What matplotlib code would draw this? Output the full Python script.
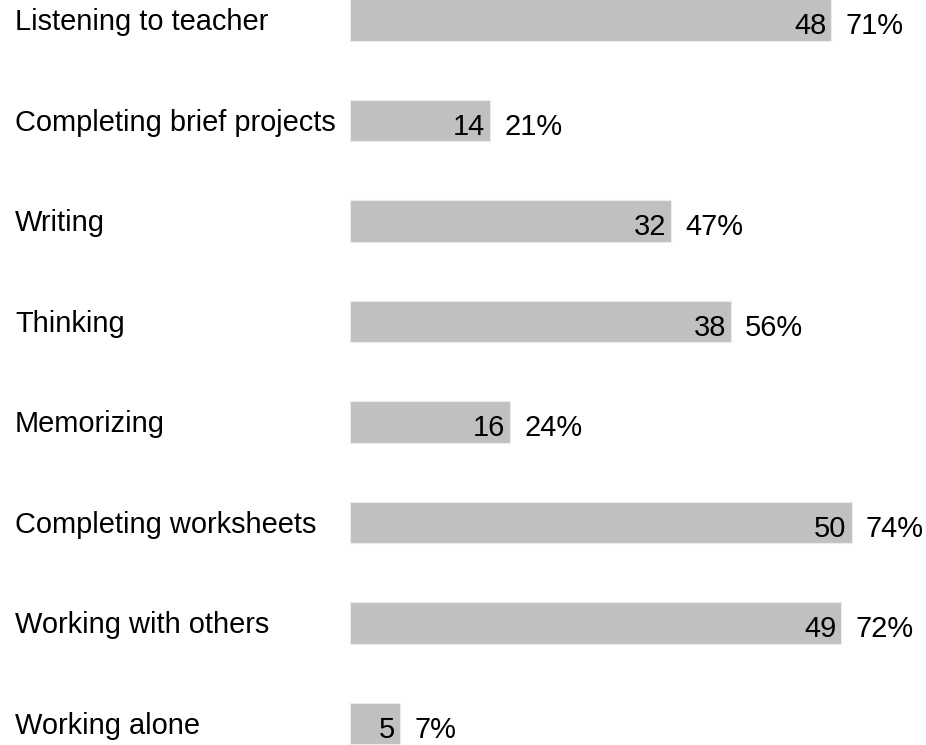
import matplotlib
matplotlib.use("Agg")
import matplotlib.pyplot as plt
import matplotlib.transforms as mtransforms

plt.rcParams["font.family"] = ["Liberation Sans", "DejaVu Sans"]

categories = [
    "Listening to teacher",
    "Completing brief projects",
    "Writing",
    "Thinking",
    "Memorizing",
    "Completing worksheets",
    "Working with others",
    "Working alone",
]
counts = [48, 14, 32, 38, 16, 50, 49, 5]
percents = [71, 21, 47, 56, 24, 74, 72, 7]

W, H = 926, 745
fig = plt.figure(figsize=(W / 100, H / 100), dpi=100)
ax = fig.add_axes([0, 0, 1, 1])

px_per_unit = 10.03
x0 = 350
ax.set_xlim(-x0 / px_per_unit, (W - x0) / px_per_unit)
row_px = 100.5
first_center = 20
ax.set_ylim((H - first_center) / row_px, -first_center / row_px)
ax.axis("off")

ypos = list(range(len(categories)))
ax.barh(ypos, counts, height=0.41, color="#c0c0c0", edgecolor="#ececec", linewidth=0.8)

fs = 20.9
label_tf = mtransforms.blended_transform_factory(ax.transAxes, ax.transData)
for y, cat, n, p in zip(ypos, categories, counts, percents):
    ax.text(15 / W, y + 0.02, cat, transform=label_tf, ha="left", va="center",
            fontsize=fs, color="black")
    ax.text(n - 0.5, y + 0.06, str(n), ha="right", va="center", fontsize=fs, color="black")
    ax.text(n + 1.4, y + 0.06, f"{p}%", ha="left", va="center", fontsize=fs, color="black")

fig.savefig("out.png", dpi=100)
